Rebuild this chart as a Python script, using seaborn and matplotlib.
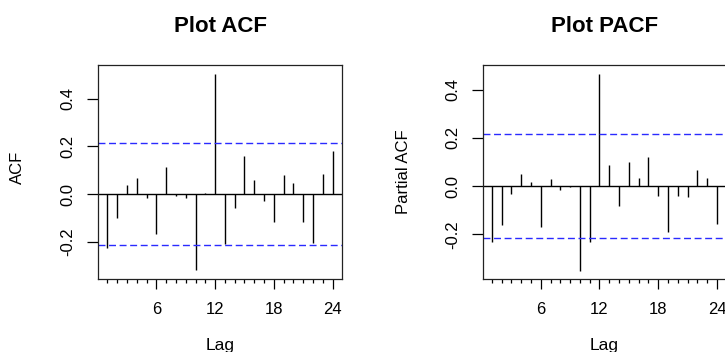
import matplotlib
matplotlib.use("Agg")
import matplotlib.pyplot as plt
import pandas as pd
import seaborn as sns

# lag values
lags = list(range(1, 25))
acf_values = [-0.225, -0.102, 0.038, 0.066, -0.018, -0.166, 0.113, -0.007,
              -0.018, -0.319, 0.004, 0.503, -0.211, -0.059, 0.161, 0.057,
              -0.027, -0.116, 0.080, 0.045, -0.116, -0.204, 0.084, 0.180]
pacf_values = [-0.232, -0.163, -0.034, 0.051, 0.017, -0.168, 0.029, -0.018,
               -0.004, -0.353, -0.232, 0.465, 0.087, -0.081, 0.099, 0.033,
               0.120, -0.039, -0.192, -0.043, -0.047, 0.068, 0.033, -0.156]
conf_limit = 0.215
titles = ["Plot ACF", "Plot PACF"]
ylabels = ["ACF", "Partial ACF"]
major_lags = [6, 12, 18, 24]
y_ticks = [-0.2, 0.0, 0.2, 0.4]
y_ticklabels = ["-0.2", "0.0", "0.2", "0.4"]


def stem_panel(ax, df, col, title, ylabel, ylim):
    ax.vlines(df["Lag"], 0, df[col], color="black", lw=1.0)
    ax.axhline(0, color="black", lw=1.0)
    for c in (conf_limit, -conf_limit):
        ax.axhline(c, color="#2a2aff", lw=1.0, dashes=(5, 2.6))
    ax.set_xlim(0.08, 24.92)
    ax.set_ylim(*ylim)

    ax.set_xticks(major_lags)
    ax.set_xticklabels([str(v) for v in major_lags])
    ax.set_xticks([l for l in df["Lag"] if l not in major_lags], minor=True)
    ax.tick_params(axis="x", which="major", length=7.3, width=0.9, pad=9.5, labelsize=12)
    ax.tick_params(axis="x", which="minor", length=2.6, width=0.9)
    ax.set_yticks(y_ticks)
    ax.set_yticklabels(y_ticklabels, rotation=90, va="center")
    ax.tick_params(axis="y", length=7.8, width=0.9, pad=8.5, labelsize=12)

    for s in ax.spines.values():
        s.set_color("#222222")
        s.set_linewidth(0.9)

    ax.set_title(title, fontsize=16, fontweight="bold", pad=24)
    ax.set_xlabel("Lag", fontsize=12.5)
    ax.xaxis.set_label_coords(0.5, -0.31)
    ax.xaxis.label.set_va("center")
    ax.set_ylabel(ylabel, fontsize=12)
    ax.yaxis.label.set_va("center")


sns.set_theme(style="ticks")
plt.rcParams["font.family"] = ["Liberation Sans", "DejaVu Sans"]
plt.rcParams["axes.unicode_minus"] = False
for key in ("text.color", "axes.labelcolor", "xtick.color", "ytick.color"):
    plt.rcParams[key] = "black"

df = pd.DataFrame({"Lag": lags, "ACF": acf_values, "PACF": pacf_values})

fig = plt.figure(figsize=(7.25, 3.52), dpi=100)
ax1 = fig.add_axes([0.1356, 0.2074, 0.3357, 0.6079])
ax2 = fig.add_axes([0.6658, 0.2074, 0.3357, 0.6079])

stem_panel(ax1, df, "ACF", titles[0], ylabels[0], (-0.356, 0.541))
ax1.yaxis.set_label_coords(-0.334, 0.52)
stem_panel(ax2, df, "PACF", titles[1], ylabels[1], (-0.385, 0.502))
ax2.yaxis.set_label_coords(-0.327, 0.5)

fig.savefig("out.png", dpi=100, facecolor="white")
